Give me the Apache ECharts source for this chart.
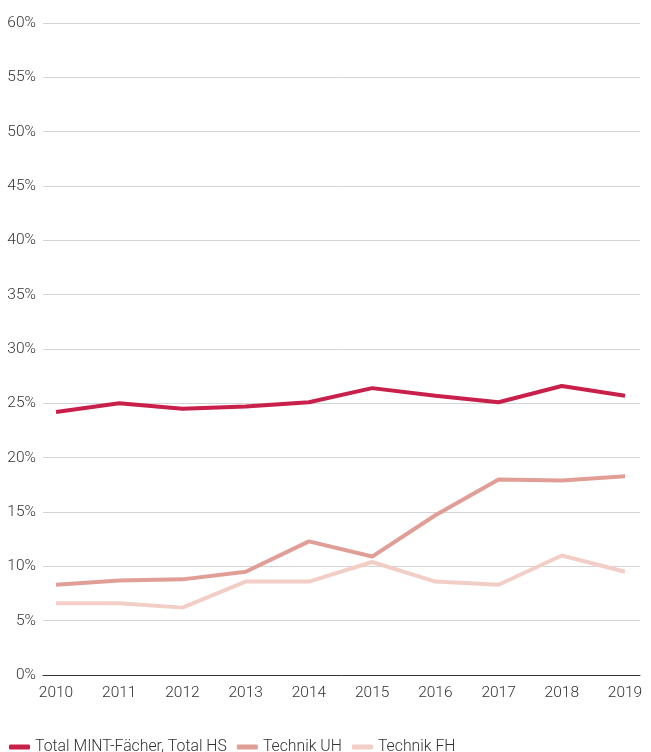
<!DOCTYPE html>
<html>
<head>
<meta charset="utf-8">
<script src="https://cdn.jsdelivr.net/npm/echarts@6/dist/echarts.min.js"></script>
<style>
  html, body { margin: 0; padding: 0; background: #fff; }
  #chart { width: 651px; height: 752px; }
</style>
</head>
<body>
<div id="chart"></div>
<script>
// Jahre und Anteile in %
var years = [2010, 2011, 2012, 2013, 2014, 2015, 2016, 2017, 2018, 2019];
var totalMint = [24.2, 25.0, 24.5, 24.7, 25.1, 26.4, 25.7, 25.1, 26.6, 25.7];
var technikUH = [8.3, 8.7, 8.8, 9.5, 12.3, 10.9, 14.7, 18.0, 17.9, 18.3];
var technikFH = [6.6, 6.6, 6.2, 8.6, 8.6, 10.4, 8.6, 8.3, 11.0, 9.5];
var seriesNames = ['Total MINT-Fächer, Total HS', 'Technik UH', 'Technik FH'];
var colors = ['#c8204b', '#e09e96', '#f2cec7'];

function pairs(vals) {
  return years.map(function (y, i) { return [y, vals[i]]; });
}

var chart = echarts.init(document.getElementById('chart'));
chart.setOption({
  animation: false,
  textStyle: { fontFamily: 'Roboto', fontWeight: 300 },
  grid: { left: 43, right: 11, top: 23, bottom: 77, containLabel: false },
  legend: {
    left: 4,
    top: 734,
    itemWidth: 21,
    itemHeight: 5,
    itemGap: 10,
    icon: 'roundRect',
    textStyle: { fontSize: 15.8, color: '#333', fontFamily: 'Roboto', fontWeight: 300 },
    data: seriesNames
  },
  xAxis: {
    type: 'value',
    min: 2009.794,
    max: 2019.237,
    splitLine: { show: false },
    axisTick: { show: false },
    axisLine: { show: true, lineStyle: { color: '#333', width: 1 } },
    axisLabel: {
      customValues: years,
      color: '#333',
      fontSize: 15.5,
      fontWeight: 300,
      margin: 10,
      showMinLabel: true,
      showMaxLabel: true,
      formatter: function (v) { return String(v); }
    }
  },
  yAxis: {
    type: 'value',
    min: 0,
    max: 60,
    interval: 5,
    axisLine: { show: false },
    axisTick: { show: false },
    axisLabel: { color: '#333', fontSize: 15.5, fontWeight: 300, margin: 7, formatter: '{value}%' },
    splitLine: { lineStyle: { color: '#d4d4d4', width: 1 } }
  },
  series: [
    { name: seriesNames[0], type: 'line', data: pairs(totalMint), showSymbol: false, z: 4,
      lineStyle: { width: 4, color: colors[0] }, itemStyle: { color: colors[0] } },
    { name: seriesNames[1], type: 'line', data: pairs(technikUH), showSymbol: false, z: 3,
      lineStyle: { width: 4, color: colors[1] }, itemStyle: { color: colors[1] } },
    { name: seriesNames[2], type: 'line', data: pairs(technikFH), showSymbol: false, z: 2,
      lineStyle: { width: 4, color: colors[2] }, itemStyle: { color: colors[2] } }
  ]
});
</script>
</body>
</html>
